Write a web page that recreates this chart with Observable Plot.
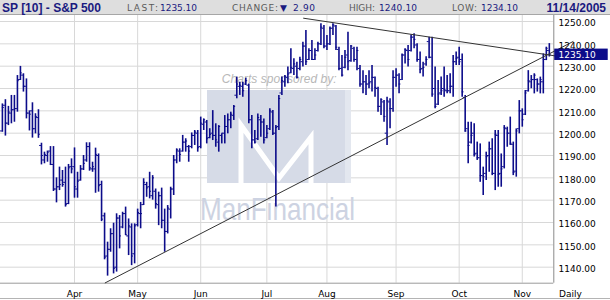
<!DOCTYPE html>
<html>
<head>
<meta charset="utf-8">
<script src="https://cdn.jsdelivr.net/npm/d3@7"></script>
<script src="https://cdn.jsdelivr.net/npm/@observablehq/plot@0.6"></script>
<style>
html,body{margin:0;padding:0;background:#fff;}
#wrap{width:610px;height:300px;overflow:hidden;position:relative;background:#fff;}
svg{display:block}
#border{height:1px;background:#b4b4b4;width:610px;}
</style>
</head>
<body>
<div id="wrap">
<svg id="hdr" width="610" height="15" xmlns="http://www.w3.org/2000/svg">
  <rect x="0" y="0" width="610" height="14" fill="#dedede"/>
  <rect x="0" y="14" width="610" height="1" fill="#a6a6a6"/>
  <text x="2" y="11.6" font-family="Liberation Sans, Arial, sans-serif" font-weight="bold" font-size="12" fill="#1a1a80">SP [10] - S&amp;P 500</text>
  <g font-family="DejaVu Sans, sans-serif" font-size="9">
    <text x="127" y="10.8" fill="#5a5a5a" textLength="31">LAST:</text>
    <text x="160" y="10.8" fill="#1a1a80" textLength="37">1235.10</text>
    <text x="232" y="10.8" fill="#5a5a5a" textLength="46">CHANGE:</text>
    <text x="280" y="10.8" fill="#1a1a80" textLength="7.5">▼</text>
    <text x="293" y="10.8" fill="#1a1a80" textLength="22">2.90</text>
    <text x="349" y="10.8" fill="#5a5a5a" textLength="26">HIGH:</text>
    <text x="379" y="10.8" fill="#1a1a80" textLength="38">1240.10</text>
    <text x="452" y="10.8" fill="#5a5a5a" textLength="25">LOW:</text>
    <text x="481" y="10.8" fill="#1a1a80" textLength="37">1234.10</text>
  </g>
  <text x="606" y="11.6" text-anchor="end" font-family="Liberation Sans, Arial, sans-serif" font-weight="bold" font-size="12" fill="#1a1a80">11/14/2005</text>
</svg>
<div id="chart"></div>
<div id="border"></div>
</div>
<script>
// ---- data ----
const monthIdx = [24, 45, 66, 88, 108, 131, 152, 173];
const monthLabels = ["Apr", "May", "Jun", "Jul", "Aug", "Sep", "Oct", "Nov"];
const periodLabel = "Daily";
const yTicks = [1140, 1150, 1160, 1170, 1180, 1190, 1200, 1210, 1220, 1230, 1240, 1250];

const high = [1213.1,1215.0,1212.0,1216.9,1216.9,1225.8,1229.9,1226.6,1224.3,1210.0,
1213.6,1208.7,1210.5,1195.5,1191.5,1192.0,1194.0,1194.0,1180.0,1184.8,
1183.3,1184.8,1186.0,1188.5,1193.4,1182.5,1185.5,1190.0,1195.7,1195.7,
1187.0,1193.3,1190.7,1178.5,1164.2,1151.2,1157.2,1159.7,1163.9,1163.1,
1164.6,1166.9,1161.6,1159.4,1159.4,1166.0,1169.0,1179.6,1178.0,1182.5,
1181.0,1175.0,1173.6,1175.4,1166.0,1167.6,1175.8,1190.0,1193.0,1193.0,
1199.0,1197.5,1194.5,1200.1,1201.2,1201.2,1207.2,1206.4,1205.7,1202.0,
1210.1,1204.2,1203.4,1199.7,1207.9,1208.6,1209.4,1212.4,1225.1,1222.8,
1222.8,1224.6,1222.0,1207.9,1201.2,1208.6,1207.9,1206.4,1203.4,1210.9,
1210.1,1203.4,1216.9,1225.1,1225.8,1229.6,1237.8,1233.3,1231.8,1234.0,
1240.7,1246.0,1237.8,1241.5,1237.8,1240.7,1249.0,1248.2,1243.7,1247.5,
1249.0,1248.2,1238.5,1234.8,1237.0,1245.2,1239.3,1238.5,1238.5,1230.3,
1228.0,1225.8,1228.0,1230.3,1225.1,1220.6,1215.4,1214.6,1216.1,1215.4,
1228.0,1228.8,1226.6,1235.5,1237.8,1239.3,1244.0,1244.5,1240.0,1236.3,
1231.8,1234.2,1243.0,1243.0,1229.6,1223.6,1225.1,1229.6,1225.8,1226.6,
1234.8,1236.3,1238.5,1235.5,1216.9,1204.9,1204.9,1204.2,1196.0,1195.2,
1184.8,1191.5,1196.0,1197.5,1201.2,1201.2,1190.7,1203.4,1202.7,1207.2,
1196.0,1201.9,1214.6,1210.9,1219.1,1228.0,1225.8,1226.6,1224.3,1225.1,
1235.5,1238.5,1240.1];

const low = [1200.4,1198.7,1203.4,1204.2,1204.9,1209.4,1223.6,1218.4,1206.4,1201.0,
1197.8,1199.7,1197.7,1185.8,1186.3,1187.0,1185.5,1173.9,1168.8,1174.3,
1175.8,1166.9,1168.0,1181.8,1170.9,1170.9,1178.5,1183.3,1187.0,1183.0,
1182.5,1173.1,1173.6,1160.4,1143.3,1136.0,1146.7,1137.0,1137.8,1148.2,
1157.2,1154.2,1145.2,1140.7,1141.5,1158.0,1157.2,1167.6,1171.3,1170.6,
1170.0,1166.0,1158.6,1157.2,1146.7,1154.9,1161.6,1172.1,1186.3,1187.0,
1191.5,1191.5,1187.0,1193.0,1194.5,1191.5,1193.0,1201.2,1195.2,1197.5,
1196.7,1193.7,1191.5,1195.2,1195.2,1199.7,1202.0,1205.7,1215.4,1216.9,
1216.1,1221.3,1204.2,1193.0,1195.2,1196.7,1198.2,1195.2,1197.5,1201.2,
1199.0,1166.9,1201.2,1216.9,1220.6,1222.1,1226.6,1225.8,1224.3,1228.0,
1229.6,1230.3,1232.5,1232.5,1232.5,1236.3,1239.3,1237.8,1237.0,1239.3,
1243.7,1237.0,1228.0,1225.1,1228.8,1228.0,1231.8,1231.8,1228.0,1220.6,
1217.6,1216.9,1219.9,1218.4,1216.1,1209.4,1207.9,1204.9,1194.5,1202.0,
1209.4,1220.6,1217.6,1223.6,1231.0,1229.6,1236.3,1237.8,1231.8,1226.6,
1225.1,1230.0,1233.3,1216.1,1210.9,1212.4,1216.9,1216.1,1217.6,1217.6,
1216.1,1230.3,1230.3,1216.1,1200.4,1186.3,1195.2,1189.3,1187.8,1178.0,
1172.1,1178.8,1182.5,1181.0,1174.3,1175.8,1175.8,1184.0,1193.7,1194.5,
1181.0,1180.3,1199.7,1202.7,1207.9,1218.4,1219.9,1217.6,1218.4,1217.6,
1217.6,1232.5,1234.1];

const open = [1201.0,1212.5,1204.5,1209.0,1210.5,1211.0,1224.0,1226.0,1221.0,1209.0,
1210.0,1202.0,1207.0,1194.5,1188.0,1190.0,1192.0,1186.0,1175.0,1176.0,
1179.0,1178.0,1168.5,1185.0,1185.0,1175.0,1179.0,1184.0,1188.0,1194.0,
1184.0,1184.0,1190.0,1177.0,1163.0,1145.0,1148.0,1155.0,1140.0,1162.0,
1158.0,1164.0,1154.0,1158.0,1146.0,1159.0,1164.0,1168.0,1177.0,1176.0,
1172.0,1174.0,1168.0,1172.0,1161.0,1156.0,1166.0,1175.0,1188.0,1192.0,
1192.0,1196.0,1194.0,1194.0,1199.0,1200.0,1194.0,1204.0,1205.0,1198.0,
1200.0,1199.0,1196.0,1199.0,1200.0,1203.0,1206.0,1208.0,1217.0,1221.0,
1221.0,1222.0,1221.5,1206.0,1197.0,1197.5,1206.0,1205.0,1198.0,1202.0,
1209.5,1200.0,1203.0,1218.0,1223.0,1225.0,1227.0,1229.0,1230.0,1229.0,
1232.0,1239.0,1233.0,1237.0,1233.0,1237.0,1240.0,1247.0,1239.0,1240.0,
1247.0,1248.0,1237.5,1229.0,1229.5,1235.0,1232.5,1238.0,1233.0,1229.0,
1222.0,1223.0,1222.0,1223.0,1225.0,1220.0,1212.0,1214.0,1200.0,1214.0,
1211.0,1225.0,1226.0,1224.0,1235.0,1237.0,1237.0,1243.0,1239.5,1233.0,
1229.0,1231.0,1241.0,1234.0,1220.0,1213.0,1218.0,1220.0,1219.0,1219.0,
1221.0,1232.0,1234.0,1233.0,1216.0,1202.0,1196.0,1200.0,1191.0,1189.0,
1181.0,1182.0,1190.0,1193.0,1182.0,1199.0,1182.0,1185.0,1202.0,1200.0,
1195.0,1183.0,1202.0,1210.0,1208.5,1219.0,1223.0,1224.0,1224.0,1222.0,
1223.0,1233.0,1237.0];

const close = [1211.5,1204.5,1209.5,1210.5,1211.0,1223.5,1227.0,1221.0,1209.0,1208.5,
1202.0,1207.5,1199.5,1190.0,1190.5,1191.5,1186.0,1175.0,1176.0,1177.0,
1177.0,1168.0,1184.5,1184.0,1176.0,1178.5,1184.0,1186.5,1194.0,1184.5,
1185.0,1190.5,1176.5,1161.5,1144.5,1148.0,1155.0,1139.5,1162.0,1154.0,
1164.0,1154.5,1158.5,1145.0,1158.5,1164.5,1164.0,1178.0,1175.5,1174.0,
1180.0,1168.5,1172.0,1161.0,1156.0,1166.5,1175.0,1188.0,1192.5,1190.5,
1196.0,1196.5,1192.0,1199.0,1200.5,1193.5,1204.5,1206.0,1197.5,1199.5,
1199.0,1197.0,1203.0,1200.0,1203.0,1206.0,1208.5,1212.0,1222.0,1221.5,
1219.0,1223.5,1206.0,1197.0,1196.0,1207.0,1205.0,1197.0,1200.0,1210.0,
1200.0,1202.5,1215.5,1223.5,1225.5,1226.5,1229.5,1231.0,1225.0,1233.0,
1239.0,1232.0,1237.0,1233.0,1235.0,1240.0,1247.5,1239.0,1240.0,1247.0,
1248.5,1238.5,1229.0,1226.0,1234.0,1232.0,1239.0,1233.0,1237.0,1222.0,
1223.0,1222.0,1222.5,1225.0,1220.5,1212.0,1215.0,1207.5,1214.5,1211.0,
1225.0,1226.0,1222.0,1235.0,1237.5,1233.0,1243.0,1242.0,1233.0,1228.5,
1229.5,1233.0,1234.0,1217.5,1212.0,1217.5,1219.0,1219.5,1219.0,1221.0,
1232.0,1233.5,1232.0,1218.5,1201.0,1194.5,1199.0,1190.5,1189.0,1181.0,
1180.5,1189.5,1193.0,1182.0,1199.5,1181.5,1184.0,1202.5,1200.0,1195.5,
1182.5,1201.0,1210.0,1206.0,1218.0,1223.5,1224.0,1226.0,1222.0,1224.0,
1233.0,1238.0,1235.1];

// trend lines (bar index, price)
const supportIdx = [34.1, 190.0];
const supportVal = [1132.9, 1241.1];
const resistIdx = [100.1, 192.4];
const resistVal = [1251.5, 1232.9];

// ---- build ----
const bars = close.map((c, i) => ({i, open: open[i], high: high[i], low: low[i], close: c}));
const trend = [
  {x1: supportIdx[0], y1: supportVal[0], x2: supportIdx[1], y2: supportVal[1]},
  {x1: resistIdx[0], y1: resistVal[0], x2: resistIdx[1], y2: resistVal[1]}
];
const last = bars[bars.length - 1];
const xDomain = [-0.632, 183.49];
const yDomain = [1132.83, 1252.69];
const navy = "#0c0c8a";
const labelOf = new Map(monthIdx.map((d, k) => [d, monthLabels[k]]));

function watermark() {
  const g = d3.create("svg:g").attr("pointer-events", "none").attr("text-anchor", "start");
  g.append("rect").attr("x", 207).attr("y", 75).attr("width", 144).attr("height", 93)
    .attr("fill", "#d6dbe7");
  g.append("path")
    .attr("d", "M241,168 L241,110 L279,163 L311,122 L311,168")
    .attr("fill", "none").attr("stroke", "#ffffff").attr("stroke-width", 5)
    .attr("stroke-linejoin", "miter");
  g.append("rect").attr("x", 345).attr("y", 75).attr("width", 6).attr("height", 93)
    .attr("fill", "#e3e7ef");
  g.append("text").attr("x", 221.7).attr("y", 67.5).attr("text-anchor", "start")
    .attr("font-family", "Liberation Sans, Arial, sans-serif").attr("font-style", "italic")
    .attr("font-size", 12).attr("fill", "#b8b8b8").attr("textLength", 115)
    .text("Charts sponsored by:");
  g.append("text").attr("x", 200).attr("y", 205).attr("text-anchor", "start")
    .attr("font-family", "Liberation Sans Narrow, Liberation Sans, Arial, sans-serif")
    .attr("font-size", 32).attr("fill", "#cdd3e2")
    .attr("textLength", 155).attr("lengthAdjust", "spacingAndGlyphs")
    .text("ManFinancial");
  return g.node();
}

const chart = Plot.plot({
  width: 610,
  height: 283,
  marginLeft: 0,
  marginRight: 56.7,
  marginTop: 0,
  marginBottom: 15.3,
  style: {fontFamily: "DejaVu Sans, sans-serif", fontSize: "9px", background: "white", overflow: "visible", color: "#000"},
  x: {domain: xDomain, axis: null},
  y: {domain: yDomain, axis: null},
  marks: [
    Plot.gridY(yTicks, {stroke: "#d8d8d8", strokeOpacity: 1}),
    Plot.gridX(monthIdx, {stroke: "#d8d8d8", strokeOpacity: 1}),
    watermark,
    Plot.ruleY([yDomain[0]], {stroke: "#9a9a9a"}),
    Plot.ruleX([xDomain[1]], {stroke: "#8a8a8a"}),
    Plot.ruleX(bars, {x: "i", y1: "low", y2: "high", stroke: navy, strokeWidth: 1.6}),
    Plot.ruleY(bars, {y: "open", x1: d => d.i - 0.62, x2: "i", stroke: navy, strokeWidth: 1}),
    Plot.ruleY(bars, {y: "close", x1: "i", x2: d => d.i + 0.62, stroke: navy, strokeWidth: 1}),
    Plot.link(trend, {x1: "x1", y1: "y1", x2: "x2", y2: "y2", stroke: "#333", strokeWidth: 1}),
    Plot.axisY(yTicks, {anchor: "right", tickSize: 0, tickPadding: 4.7, tickFormat: d => d.toFixed(2), dy: 2}),
    Plot.axisX(monthIdx, {anchor: "bottom", tickSize: 0, tickPadding: 7.6, tickFormat: d => labelOf.get(d)}),
    Plot.text([periodLabel], {x: () => 189.05, frameAnchor: "bottom", lineAnchor: "top", dy: 7.6, text: d => d}),
    Plot.rect([last], {x1: () => 183.8, x2: () => 201.6, y1: d => d.close - 2.55, y2: d => d.close + 2.55, fill: navy}),
    Plot.text([last], {x: () => xDomain[1], y: "close", text: d => d.close.toFixed(2), textAnchor: "start", dx: 4.7, dy: 0.5, fill: "white"})
  ]
});
document.getElementById("chart").appendChild(chart);
</script>
</body>
</html>
